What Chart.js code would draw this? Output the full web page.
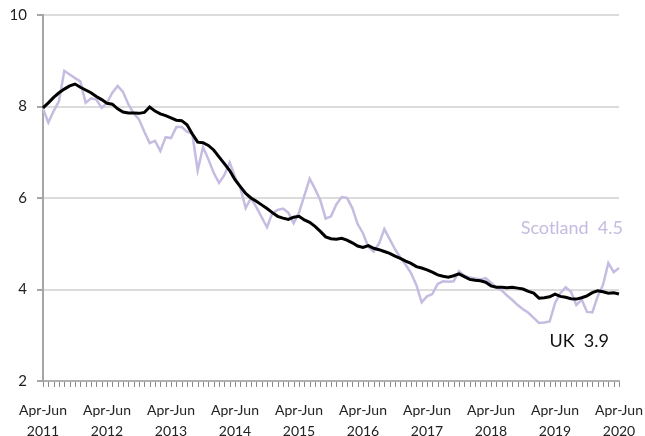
<!DOCTYPE html>
<html>
<head>
<meta charset="utf-8">
<script src="https://cdn.jsdelivr.net/npm/chart.js@4/dist/chart.umd.min.js"></script>
<style>
  body { margin: 0; background: #fff; }
  #wrap { width: 645px; height: 436px; position: relative; }
</style>
</head>
<body>
<div id="wrap"><canvas id="rateChart"></canvas></div>
<script>
// rolling quarters, Apr-Jun 2011 .. Apr-Jun 2020
const categories = [
  "Apr-Jun 2011","May-Jul 2011","Jun-Aug 2011","Jul-Sep 2011","Aug-Oct 2011","Sep-Nov 2011","Oct-Dec 2011","Nov-Jan 2012","Dec-Feb 2012","Jan-Mar 2012","Feb-Apr 2012","Mar-May 2012",
  "Apr-Jun 2012","May-Jul 2012","Jun-Aug 2012","Jul-Sep 2012","Aug-Oct 2012","Sep-Nov 2012","Oct-Dec 2012","Nov-Jan 2013","Dec-Feb 2013","Jan-Mar 2013","Feb-Apr 2013","Mar-May 2013",
  "Apr-Jun 2013","May-Jul 2013","Jun-Aug 2013","Jul-Sep 2013","Aug-Oct 2013","Sep-Nov 2013","Oct-Dec 2013","Nov-Jan 2014","Dec-Feb 2014","Jan-Mar 2014","Feb-Apr 2014","Mar-May 2014",
  "Apr-Jun 2014","May-Jul 2014","Jun-Aug 2014","Jul-Sep 2014","Aug-Oct 2014","Sep-Nov 2014","Oct-Dec 2014","Nov-Jan 2015","Dec-Feb 2015","Jan-Mar 2015","Feb-Apr 2015","Mar-May 2015",
  "Apr-Jun 2015","May-Jul 2015","Jun-Aug 2015","Jul-Sep 2015","Aug-Oct 2015","Sep-Nov 2015","Oct-Dec 2015","Nov-Jan 2016","Dec-Feb 2016","Jan-Mar 2016","Feb-Apr 2016","Mar-May 2016",
  "Apr-Jun 2016","May-Jul 2016","Jun-Aug 2016","Jul-Sep 2016","Aug-Oct 2016","Sep-Nov 2016","Oct-Dec 2016","Nov-Jan 2017","Dec-Feb 2017","Jan-Mar 2017","Feb-Apr 2017","Mar-May 2017",
  "Apr-Jun 2017","May-Jul 2017","Jun-Aug 2017","Jul-Sep 2017","Aug-Oct 2017","Sep-Nov 2017","Oct-Dec 2017","Nov-Jan 2018","Dec-Feb 2018","Jan-Mar 2018","Feb-Apr 2018","Mar-May 2018",
  "Apr-Jun 2018","May-Jul 2018","Jun-Aug 2018","Jul-Sep 2018","Aug-Oct 2018","Sep-Nov 2018","Oct-Dec 2018","Nov-Jan 2019","Dec-Feb 2019","Jan-Mar 2019","Feb-Apr 2019","Mar-May 2019",
  "Apr-Jun 2019","May-Jul 2019","Jun-Aug 2019","Jul-Sep 2019","Aug-Oct 2019","Sep-Nov 2019","Oct-Dec 2019","Nov-Jan 2020","Dec-Feb 2020","Jan-Mar 2020","Feb-Apr 2020","Mar-May 2020",
  "Apr-Jun 2020"
];

const ukRate = [
  7.97, 8.08, 8.2, 8.3, 8.38, 8.45, 8.49, 8.42, 8.36, 8.3, 8.22, 8.15,
  8.07, 8.05, 7.95, 7.88, 7.86, 7.86, 7.85, 7.87, 7.99, 7.9, 7.84, 7.8,
  7.75, 7.7, 7.69, 7.6, 7.4, 7.22, 7.21, 7.15, 7.05, 6.9, 6.75, 6.6,
  6.4, 6.25, 6.1, 6.0, 5.93, 5.85, 5.77, 5.68, 5.6, 5.56, 5.53, 5.58,
  5.6, 5.52, 5.47, 5.38, 5.27, 5.15, 5.11, 5.1, 5.12, 5.08, 5.02, 4.95,
  4.92, 4.96, 4.9, 4.87, 4.83, 4.79, 4.73, 4.68, 4.62, 4.57, 4.5, 4.47,
  4.43, 4.38, 4.32, 4.29, 4.27, 4.3, 4.34, 4.28, 4.22, 4.2, 4.19, 4.16,
  4.08, 4.05, 4.05, 4.04, 4.05, 4.03, 4.01, 3.96, 3.92, 3.81, 3.82, 3.84,
  3.9, 3.85, 3.83, 3.8, 3.79, 3.82, 3.86, 3.93, 3.97, 3.95, 3.92, 3.93,
  3.9
];

const scotlandRate = [
  7.95, 7.65, 7.9, 8.12, 8.78, 8.7, 8.62, 8.55, 8.08, 8.18, 8.15, 7.97,
  8.08, 8.3, 8.45, 8.32, 8.05, 7.85, 7.72, 7.45, 7.2, 7.25, 7.03, 7.33,
  7.31, 7.55, 7.55, 7.45, 7.4, 6.6, 7.11, 6.85, 6.55, 6.33, 6.5, 6.78,
  6.46, 6.22, 5.78, 6.0, 5.8, 5.58, 5.36, 5.67, 5.74, 5.77, 5.68, 5.45,
  5.68, 6.05, 6.42, 6.2, 5.95, 5.55, 5.6, 5.86, 6.02, 6.0, 5.78, 5.43,
  5.23, 4.93, 4.83, 5.0, 5.32, 5.1, 4.88, 4.7, 4.54, 4.36, 4.1, 3.72,
  3.85, 3.9, 4.12, 4.18, 4.17, 4.18, 4.4, 4.3, 4.26, 4.24, 4.22, 4.25,
  4.15, 4.05, 3.98, 3.87, 3.77, 3.66, 3.57, 3.49, 3.38, 3.27, 3.28, 3.3,
  3.7, 3.92, 4.05, 3.95, 3.66, 3.78, 3.51, 3.5, 3.85, 4.1, 4.58, 4.38,
  4.47
];

const yTicks = [2, 4, 6, 8, 10];

const lavender = "#c6bbe0";

// small monthly tick marks under the x axis
const monthTicks = {
  id: "monthTicks",
  afterDraw(chart) {
    const { ctx, chartArea, scales } = chart;
    ctx.save();
    ctx.strokeStyle = "#8a8a8a";
    ctx.lineWidth = 1;
    ctx.beginPath();
    for (let i = 0; i < categories.length; i++) {
      const x = Math.round(scales.x.getPixelForValue(i)) + 0.5;
      ctx.moveTo(x, chartArea.bottom + 1);
      ctx.lineTo(x, chartArea.bottom + 6);
    }
    ctx.stroke();
    ctx.restore();
  }
};

// end labels "Scotland 4.5" / "UK 3.9"
const endLabels = {
  id: "endLabels",
  afterDatasetsDraw(chart) {
    const { ctx, chartArea, scales } = chart;
    const y = scales.y;
    const sc = scotlandRate[scotlandRate.length - 1].toFixed(1);
    const uk = ukRate[ukRate.length - 1].toFixed(1);
    ctx.save();
    ctx.textBaseline = "middle";
    ctx.textAlign = "right";
    ctx.font = "18px Lato";
    ctx.fillStyle = lavender;
    ctx.fillText("Scotland  " + sc, chartArea.right + 4, y.getPixelForValue(5.35));
    ctx.fillStyle = "#111";
    ctx.fillText("UK  " + uk, chartArea.right - 10, y.getPixelForValue(2.87));
    ctx.restore();
  }
};

const ctx = document.getElementById("rateChart");
new Chart(ctx, {
  type: "line",
  data: {
    labels: categories,
    datasets: [
      {
        label: "UK",
        data: ukRate,
        borderColor: "#000",
        borderWidth: 3,
        pointRadius: 0,
        tension: 0,
      },
      {
        label: "Scotland",
        data: scotlandRate,
        borderColor: lavender,
        borderWidth: 2.5,
        pointRadius: 0,
        tension: 0,
      },
    ],
  },
  options: {
    responsive: true,
    maintainAspectRatio: false,
    animation: false,
    layout: {
      padding: { top: 15, right: 26, left: 0, bottom: 0 },
    },
    plugins: {
      legend: { display: false },
      tooltip: { enabled: false },
    },
    scales: {
      x: {
        offset: false,
        grid: {
          display: false,
        },
        border: { color: "#b0b0b0", width: 2 },
        ticks: {
          autoSkip: false,
          maxRotation: 0,
          minRotation: 0,
          padding: 11,
          color: "#222",
          font: { family: "Lato", size: 14, lineHeight: 1.5 },
          callback: function (value, index) {
            const lab = categories[index];
            if (lab.startsWith("Apr-Jun")) {
              return ["Apr-Jun", lab.slice(8)];
            }
            return "";
          },
        },
        afterFit: function (scale) {
          scale.height = 55;
          scale.paddingLeft = 0;
          scale.paddingRight = 0;
        },
      },
      y: {
        min: 2,
        max: 10,
        afterBuildTicks: function (scale) {
          scale.ticks = yTicks.map((v) => ({ value: v }));
        },
        grid: {
          color: "#dcdcdc",
          lineWidth: 2,
          tickLength: 6,
          tickColor: "#a6a6a6",
        },
        border: { color: "#a6a6a6", width: 2 },
        ticks: {
          padding: 10,
          color: "#222",
          font: { family: "Lato", size: 15 },
        },
        afterFit: function (scale) {
          scale.width = 43;
          scale.paddingTop = 0;
          scale.paddingBottom = 0;
        },
      },
    },
  },
  plugins: [endLabels, monthTicks],
});
</script>
</body>
</html>
